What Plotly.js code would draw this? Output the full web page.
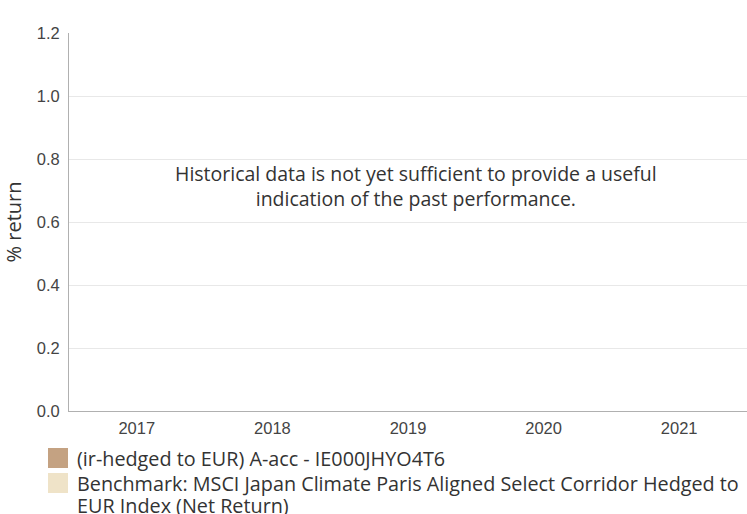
<!DOCTYPE html>
<html>
<head>
<meta charset="utf-8">
<script src="https://cdn.plot.ly/plotly-3.0.1.min.js"></script>
<style>html,body{margin:0;padding:0;background:#fff;}#chart{width:747px;height:514px;}</style>
</head>
<body>
<div id="chart"></div>
<script>
var years = ['2017', '2018', '2019', '2020', '2021'];
var fundReturns = [null, null, null, null, null];
var benchmarkReturns = [null, null, null, null, null];
var seriesNames = ['(ir-hedged to EUR) A-acc - IE000JHYO4T6', 'Benchmark: MSCI Japan Climate Paris Aligned Select Corridor Hedged to<br>EUR Index (Net Return)'];
var seriesColors = ['#c4a282', '#efe3c8'];
var yTicks = [0, 0.2, 0.4, 0.6, 0.8, 1.0, 1.2];
var noteText = 'Historical data is not yet sufficient to provide a useful<br>indication of the past performance.';

var textFont = 'Open Sans, Noto Sans, sans-serif';
var tickFont = {family: 'Liberation Sans, Arial, sans-serif', size: 16.5, color: '#444'};

var traces = [
  {type: 'bar', x: years, y: fundReturns, name: seriesNames[0], marker: {color: seriesColors[0]}, showlegend: false},
  {type: 'bar', x: years, y: benchmarkReturns, name: seriesNames[1], marker: {color: seriesColors[1]}, showlegend: false}
];

var W = 678, H = 378, L = 69, B = 411;
function px(x) { return (x - L) / W; }
function py(y) { return (B - y) / H; }

var shapes = [];
var annotations = [{
  xref: 'paper', yref: 'paper', x: px(416), y: py(185.5), xanchor: 'center', yanchor: 'middle',
  text: noteText, showarrow: false, align: 'center',
  font: {family: textFont, size: 19.5, color: '#333'}
}];
var legendTops = [448, 473];
var lineGap = 22;
for (var i = 0; i < seriesNames.length; i++) {
  shapes.push({type: 'rect', xref: 'paper', yref: 'paper',
    x0: px(48), x1: px(68),
    y0: py(legendTops[i]), y1: py(legendTops[i] + 20),
    fillcolor: seriesColors[i], line: {width: 0}});
  var lines = seriesNames[i].split('<br>');
  for (var j = 0; j < lines.length; j++) {
    annotations.push({xref: 'paper', yref: 'paper',
      x: px(75), y: py(legendTops[i] + 10 + j * lineGap),
      xanchor: 'left', yanchor: 'middle', align: 'left', showarrow: false,
      text: lines[j], font: {family: textFont, size: 19.8, color: '#333'}});
  }
}

var layout = {
  width: 747, height: 514,
  margin: {l: L, r: 0, t: 33, b: 103},
  paper_bgcolor: '#fff', plot_bgcolor: '#fff',
  barmode: 'group',
  showlegend: false,
  xaxis: {type: 'category', range: [-0.5, 4.5], showgrid: false, zeroline: false,
    showline: true, linecolor: '#b0b0b0', linewidth: 1, ticks: '', ticklabelstandoff: 2,
    tickfont: tickFont, fixedrange: true},
  yaxis: {range: [0, 1.2], tickvals: yTicks, tickformat: '.1f', showgrid: true, gridcolor: '#e8e8e8',
    zeroline: false, showline: true, linecolor: '#b0b0b0', linewidth: 1, ticks: '', ticklabelstandoff: 5,
    tickfont: tickFont,
    title: {text: '% return', font: {family: textFont, size: 20, color: '#333'}, standoff: 12}, fixedrange: true},
  shapes: shapes,
  annotations: annotations
};

Plotly.newPlot('chart', traces, layout, {displayModeBar: false, staticPlot: true});
</script>
</body>
</html>
